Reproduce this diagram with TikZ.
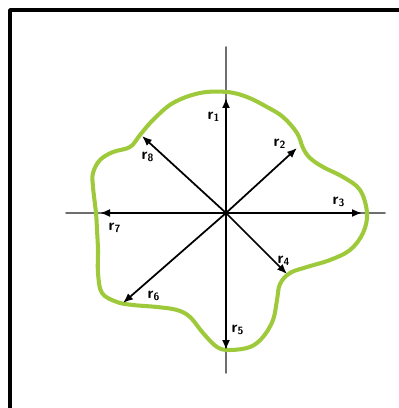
\documentclass[tikz,border=0pt]{standalone}
\usepackage{xcolor}
\usepackage{tikz}
\usetikzlibrary{arrows.meta}
\definecolor{rdGreen}{HTML}{9DC93A}
\definecolor{rdAxis}{HTML}{6E6E6E}
\tikzset{
  rd diagram/.style={x={(0.02cm,0)}, y={(0,-0.02cm)},
    line cap=round, line join=round},
  rd frame/.style={draw=black, line width=2.2pt},
  rd axis/.style={draw=rdAxis, line width=1.1pt},
  rd arrow/.style={-{Latex[length=2mm,width=1.6mm]}, draw=black, line width=1pt},
  rd curve/.style={draw=rdGreen, line width=2.3pt},
  rd label/.style={font=\sffamily\bfseries\small, inner sep=1pt}
}

\begin{document}
\begin{tikzpicture}[rd diagram]
\useasboundingbox (0,0) rectangle (398,408);
\draw[rd frame] (10,420) -- (10,10) -- (410,10);
% axes
\draw[rd axis] (226,47) -- (226,373);
\draw[rd axis] (66,213) -- (385,213);
% boundary
\draw[rd curve] plot[smooth cycle, tension=0.6] coordinates {
  (96,213) (93,187) (93,173) (100,160) (113,152) (130,147) (140,135)
  (153,120) (173,103) (200,93) (227,92) (247,97) (267,107) (283,117)
  (297,133) (303,148) (310,158) (323,167) (343,177) (360,190) (367,213)
  (363,233) (350,250) (330,260) (307,267) (290,273) (280,284) (277,300)
  (273,320) (263,337) (250,347) (230,350) (217,347) (203,333) (190,317)
  (177,310) (157,307) (133,305) (117,302) (102,293) (98,273) (98,250) (97,230)};
% radii
\coordinate (o) at (226,213);
\coordinate (t1) at (226,98);
\coordinate (t2) at (297,148);
\coordinate (t3) at (362,213);
\coordinate (t4) at (287,274);
\coordinate (t5) at (226,350);
\coordinate (t6) at (123,303);
\coordinate (t7) at (100,213);
\coordinate (t8) at (142,136);
\foreach \i in {1,...,8}
  \draw[rd arrow] (o) -- (t\i);
\node[rd label] (r1) at (214,117) {r\textsubscript{1}};
\node[rd label] (r2) at (280,144) {r\textsubscript{2}};
\node[rd label] (r3) at (339,202) {r\textsubscript{3}};
\node[rd label] (r4) at (284,261) {r\textsubscript{4}};
\node[rd label] (r5) at (238,330) {r\textsubscript{5}};
\node[rd label] (r6) at (154,296) {r\textsubscript{6}};
\node[rd label] (r7) at (115,228) {r\textsubscript{7}};
\node[rd label] (r8) at (148,157) {r\textsubscript{8}};
\end{tikzpicture}
\end{document}
